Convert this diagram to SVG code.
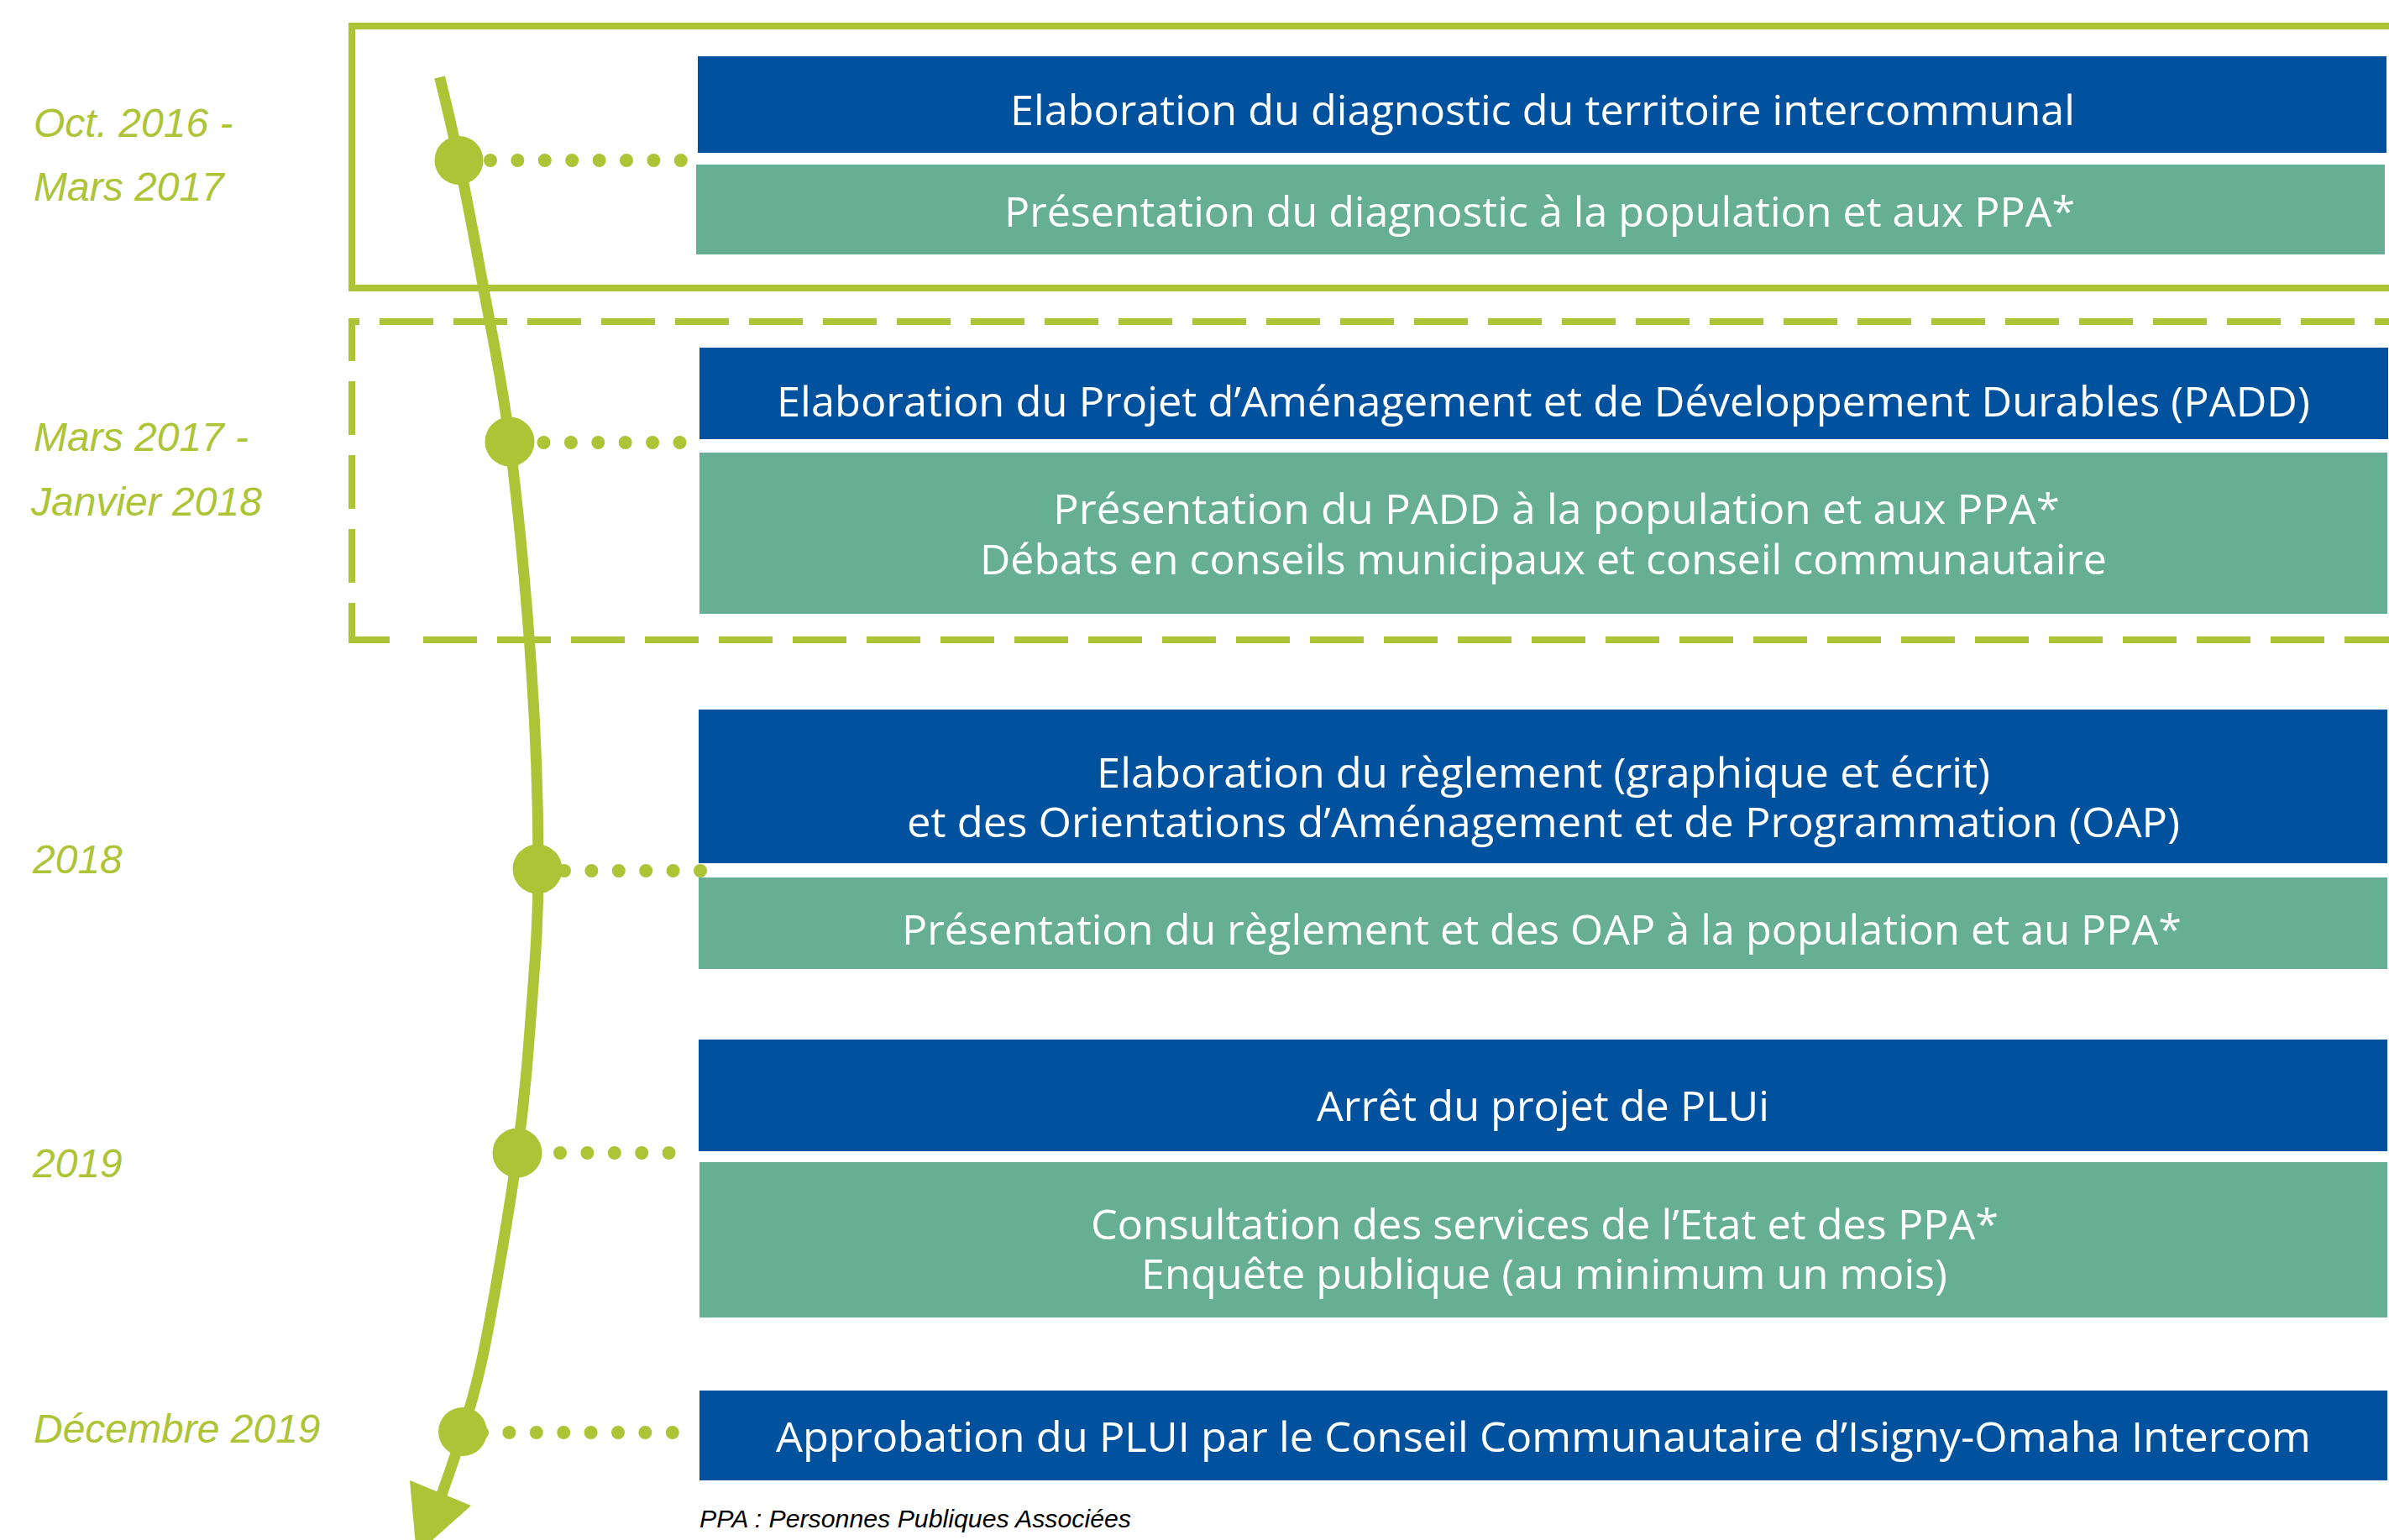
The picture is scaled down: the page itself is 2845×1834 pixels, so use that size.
<svg xmlns="http://www.w3.org/2000/svg" width="2845" height="1834" viewBox="0 0 2845 1834">
<style>
.blue{fill:#00519E}
.teal{fill:#66AE94}
.bt{font-family:"Open Sans","Liberation Sans",sans-serif;font-size:50px;fill:#fff}
.date{font-family:"Liberation Sans",Arial,sans-serif;font-style:italic;font-size:48px;fill:#AEC437}
.frame{fill:none;stroke:#AEC437;stroke-width:8}
.dash{fill:none;stroke:#AEC437;stroke-width:8;stroke-dasharray:64 24}
.dots{fill:none;stroke:#AEC437;stroke-width:16;stroke-linecap:round;stroke-dasharray:0 32.4}
.mark{fill:#AEC437}
.note{font-family:"Liberation Sans",Arial,sans-serif;font-style:italic;font-size:30px;fill:#000}
</style>
<rect width="2845" height="1834" fill="#fff"/>
<g id="phase-frames">
<rect class="frame" x="419" y="31" width="2450" height="312"/>
<line class="dash" x1="415" y1="383" x2="2860" y2="383" stroke-dashoffset="51"/>
<line class="dash" x1="419" y1="379" x2="419" y2="718" stroke-dashoffset="13"/>
<path class="frame" d="M419,718 V762 H464"/>
<line class="dash" x1="504" y1="762" x2="2860" y2="762"/>
</g>
<g id="dates">
<text class="date" x="40" y="163">Oct. 2016 -</text>
<text class="date" x="40" y="239">Mars 2017</text>
<text class="date" x="40" y="537">Mars 2017 -</text>
<text class="date" x="37" y="614">Janvier 2018</text>
<text class="date" x="39" y="1040">2018</text>
<text class="date" x="39" y="1402">2019</text>
<text class="date" x="40" y="1718">Décembre 2019</text>
</g>
<g id="connectors">
<path d="M523.7,92 C527.5,108.5 538,149.8 546.5,191 C555,232.2 564.9,283.2 575,339 C585.1,394.8 597.3,449.2 607,526 C616.7,602.8 627.3,715.3 633,800 C638.7,884.7 641,967.3 641,1034 C641,1100.7 637.2,1143.5 633,1200 C628.8,1256.5 625.2,1306.3 616,1373 C606.8,1439.7 588.8,1544.7 578,1600 C567.2,1655.3 559.7,1675 551,1705 C542.3,1735 530.2,1767.5 526,1780" fill="none" stroke="#AEC437" stroke-width="13"/>
<polygon class="mark" points="488,1763 561,1793 496,1851"/>
<line class="dots" x1="584" y1="191" x2="812" y2="191"/>
<line class="dots" x1="647.5" y1="527" x2="811" y2="527"/>
<line class="dots" x1="672" y1="1037" x2="835" y2="1037"/>
<line class="dots" x1="667" y1="1373" x2="798" y2="1373"/>
<line class="dots" x1="574" y1="1706" x2="803" y2="1706"/>
</g>
<g id="markers">
<circle id="m1" class="mark" cx="546.5" cy="191" r="29"/>
<circle id="m2" class="mark" cx="607" cy="526" r="29.5"/>
<circle id="m3" class="mark" cx="640" cy="1035" r="29.5"/>
<circle id="m4" class="mark" cx="616" cy="1373" r="29.5"/>
<circle id="m5" class="mark" cx="551" cy="1705" r="29"/>
</g>
<g id="n1"><rect class="blue" x="831" y="67" width="2011" height="115"/><text class="bt" x="1203" y="149" textLength="1268" lengthAdjust="spacingAndGlyphs">Elaboration du diagnostic du territoire intercommunal</text></g>
<g id="n2"><rect class="teal" x="829" y="196" width="2011" height="107"/><text class="bt" x="1196" y="270" textLength="1275" lengthAdjust="spacingAndGlyphs">Présentation du diagnostic à la population et aux PPA*</text></g>
<g id="n3"><rect class="blue" x="833" y="414" width="2011" height="109"/><text class="bt" x="925" y="496" textLength="1826" lengthAdjust="spacingAndGlyphs">Elaboration du Projet d’Aménagement et de Développement Durables (PADD)</text></g>
<g id="n4"><rect class="teal" x="833" y="539" width="2010" height="192"/><text class="bt" x="1254" y="624" textLength="1199" lengthAdjust="spacingAndGlyphs">Présentation du PADD à la population et aux PPA*</text><text class="bt" x="1167" y="684" textLength="1342" lengthAdjust="spacingAndGlyphs">Débats en conseils municipaux et conseil communautaire</text></g>
<g id="n5"><rect class="blue" x="832" y="845" width="2011" height="183"/><text class="bt" x="1306" y="938" textLength="1064" lengthAdjust="spacingAndGlyphs">Elaboration du règlement (graphique et écrit)</text><text class="bt" x="1080" y="997" textLength="1516" lengthAdjust="spacingAndGlyphs">et des Orientations d’Aménagement et de Programmation (OAP)</text></g>
<g id="n6"><rect class="teal" x="832" y="1045" width="2011" height="109"/><text class="bt" x="1074" y="1125" textLength="1524" lengthAdjust="spacingAndGlyphs">Présentation du règlement et des OAP à la population et au PPA*</text></g>
<g id="n7"><rect class="blue" x="832" y="1238" width="2011" height="133"/><text class="bt" x="1568" y="1335" textLength="539" lengthAdjust="spacingAndGlyphs">Arrêt du projet de PLUi</text></g>
<g id="n8"><rect class="teal" x="833" y="1384" width="2010" height="185"/><text class="bt" x="1299" y="1476" textLength="1081" lengthAdjust="spacingAndGlyphs">Consultation des services de l’Etat et des PPA*</text><text class="bt" x="1359" y="1535" textLength="960" lengthAdjust="spacingAndGlyphs">Enquête publique (au minimum un mois)</text></g>
<g id="n9"><rect class="blue" x="833" y="1656" width="2010" height="107"/><text class="bt" x="924" y="1729" textLength="1828" lengthAdjust="spacingAndGlyphs">Approbation du PLUI par le Conseil Communautaire d’Isigny-Omaha Intercom</text></g>
<g id="footnote"><text class="note" x="833" y="1819" textLength="514" lengthAdjust="spacingAndGlyphs">PPA : Personnes Publiques Associées</text></g>
</svg>
